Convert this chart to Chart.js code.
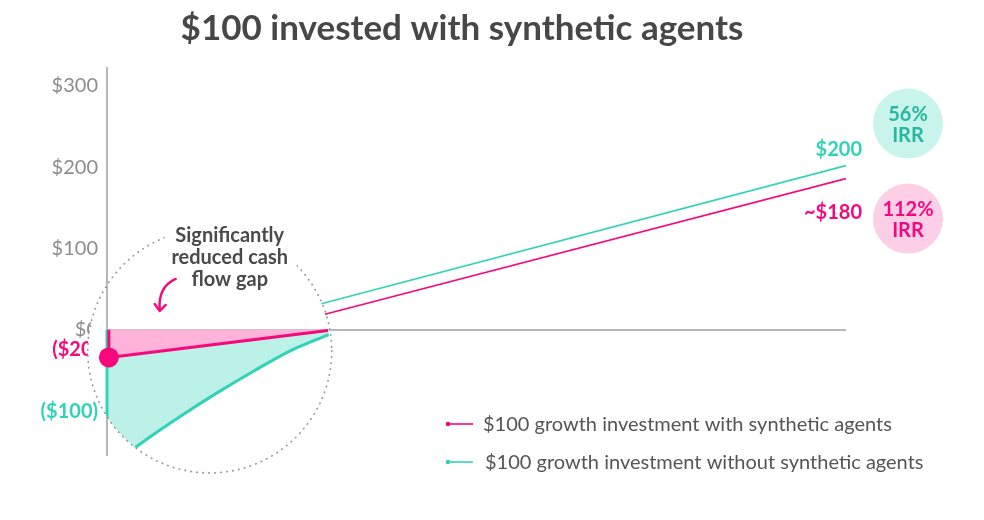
<!DOCTYPE html>
<html>
<head>
<meta charset="utf-8">
<script src="https://cdn.jsdelivr.net/npm/chart.js@4.4.0/dist/chart.umd.min.js"></script>
<style>
  html, body { margin: 0; padding: 0; background: #fff; }
  #wrap { width: 984px; height: 520px; position: relative; }
</style>
</head>
<body>
<div id="wrap"><canvas id="chart_Invest"></canvas></div>
<script>
// values (x is just the time axis, 0..10, no labels)
var titleText = '$100 invested with synthetic agents';
var seriesLabels = ['$100 growth investment with synthetic agents', '$100 growth investment without synthetic agents'];
var yTicks = [0, 100, 200, 300];

var withX = [2.95, 10];
var withY = [19, 186];
var withoutX = [2.9, 10];
var withoutY = [32, 202];

// magnified start of both investments (inside the dotted circle)
var withStartX = [0.025, 0.025, 2.99];
var withStartY = [0, -34, -1];
var withoutDropX = [0, 0];
var withoutDropY = [0, -200];
var withoutCurveX = [0, 0.5, 1.0, 1.5, 2.0, 2.5, 3.0];
var withoutCurveY = [-171, -137, -106, -77, -50, -25, -6];

var startLabels = ['($20)', '($100)'];
var startValues = [-24, -100];
var endLabels = ['~$180', '$200'];
var irrLabels = [['112%', 'IRR'], ['56%', 'IRR']];
var noteLines = ['Significantly', 'reduced cash', 'flow gap'];

var pink = '#f7087c';
var teal = '#30d3b6';
var axisGray = '#b8b8b8';

function toPoints(xs, ys) {
    var pts = [];
    for (var i = 0; i < xs.length; i++) {
        pts.push({ x: xs[i], y: ys[i] });
    }
    return pts;
}

var lensX = 1.39, lensY = -26, lensR = 122;
var clipped = false;

var lensPlugin = {
    id: 'lens',
    beforeDatasetsDraw: function (chart) {
        var ctx = chart.ctx, xs = chart.scales.x, ys = chart.scales.y, a = chart.chartArea;
        // start labels sit under the lens
        ctx.save();
        ctx.font = 'bold 20px Lato';
        ctx.textAlign = 'right';
        ctx.textBaseline = 'middle';
        ctx.fillStyle = pink;
        ctx.fillText(startLabels[0], a.left - 9, ys.getPixelForValue(startValues[0]));
        ctx.fillStyle = teal;
        ctx.fillText(startLabels[1], a.left - 9, ys.getPixelForValue(startValues[1]));
        ctx.restore();

        var cx = xs.getPixelForValue(lensX), cy = ys.getPixelForValue(lensY);
        ctx.save();
        ctx.beginPath();
        ctx.arc(cx, cy, lensR, 0, Math.PI * 2);
        ctx.fillStyle = '#fff';
        ctx.fill();
        ctx.clip();
        ctx.strokeStyle = axisGray;
        ctx.lineWidth = 2;
        ctx.beginPath();
        ctx.moveTo(a.left, a.top);
        ctx.lineTo(a.left, a.bottom);
        ctx.moveTo(a.left, Math.round(ys.getPixelForValue(0)));
        ctx.lineTo(a.right, Math.round(ys.getPixelForValue(0)));
        ctx.stroke();
        clipped = true;
    },
    beforeDatasetDraw: function (chart, args) {
        if (args.index < 2 && clipped) {
            chart.ctx.restore();
            clipped = false;
        }
    },
    afterDatasetsDraw: function (chart) {
        var ctx = chart.ctx, xs = chart.scales.x, ys = chart.scales.y, a = chart.chartArea;
        if (clipped) {
            ctx.restore();
            clipped = false;
        }
        var cx = xs.getPixelForValue(lensX), cy = ys.getPixelForValue(lensY);

        // dotted lens outline
        ctx.save();
        ctx.beginPath();
        ctx.arc(cx, cy, lensR, 0, Math.PI * 2);
        ctx.setLineDash([0.4, 5.6]);
        ctx.lineCap = 'round';
        ctx.lineWidth = 1.8;
        ctx.strokeStyle = '#9c9c9c';
        ctx.stroke();
        ctx.restore();

        // note above the lens
        ctx.save();
        ctx.fillStyle = '#fff';
        ctx.fillRect(cx - 45, cy - 133, 132, 74);
        ctx.font = 'bold 20px Lato';
        ctx.fillStyle = '#4a4a4a';
        ctx.textAlign = 'center';
        ctx.textBaseline = 'alphabetic';
        for (var i = 0; i < noteLines.length; i++) {
            ctx.fillText(noteLines[i], cx + 20, cy - 109 + i * 22);
        }
        // curved arrow
        ctx.strokeStyle = pink;
        ctx.lineWidth = 2.4;
        ctx.lineCap = 'round';
        ctx.lineJoin = 'round';
        ctx.beginPath();
        ctx.moveTo(cx - 34, cy - 72);
        ctx.quadraticCurveTo(cx - 52, cy - 64, cx - 50, cy - 41);
        ctx.stroke();
        ctx.beginPath();
        ctx.moveTo(cx - 55, cy - 47);
        ctx.lineTo(cx - 50, cy - 40);
        ctx.lineTo(cx - 44, cy - 46);
        ctx.stroke();
        ctx.restore();

        // end values and IRR bubbles
        var ends = [
            { lab: endLabels[0], irr: irrLabels[0], col: pink, fill: '#fdcfe6', txt: '#f2097f', y: ys.getPixelForValue(withY[1]), dy: 34, by: 40 },
            { lab: endLabels[1], irr: irrLabels[1], col: teal, fill: '#c9f4ec', txt: '#27b89f', y: ys.getPixelForValue(withoutY[1]), dy: -16, by: -42 }
        ];
        ctx.save();
        ends.forEach(function (e) {
            ctx.font = 'bold 20px Lato';
            ctx.textAlign = 'right';
            ctx.textBaseline = 'middle';
            ctx.fillStyle = e.col;
            ctx.fillText(e.lab, a.right + 16, e.y + e.dy);
            ctx.beginPath();
            ctx.arc(a.right + 62, e.y + e.by, 35, 0, Math.PI * 2);
            ctx.fillStyle = e.fill;
            ctx.fill();
            ctx.fillStyle = e.txt;
            ctx.textAlign = 'center';
            ctx.font = 'bold 20px Lato';
            ctx.fillText(e.irr[0], a.right + 62, e.y + e.by - 9);
            ctx.fillText(e.irr[1], a.right + 62, e.y + e.by + 12);
        });
        ctx.restore();

        // legend
        ctx.save();
        var ds = chart.data.datasets;
        for (var j = 0; j < 2; j++) {
            var ly = 424 + j * 38;
            ctx.strokeStyle = ds[j].borderColor;
            ctx.fillStyle = ds[j].borderColor;
            ctx.lineWidth = 1.6;
            ctx.beginPath();
            ctx.moveTo(447, ly);
            ctx.lineTo(473, ly);
            ctx.stroke();
            ctx.beginPath();
            ctx.arc(448, ly, 2.3, 0, Math.PI * 2);
            ctx.fill();
            ctx.font = '20px Lato';
            ctx.fillStyle = '#555';
            ctx.textAlign = 'left';
            ctx.textBaseline = 'middle';
            ctx.fillText(ds[j].label, 483 + j * 2, ly + 1);
        }
        ctx.restore();

        // title
        ctx.save();
        ctx.font = 'bold 35px Lato';
        ctx.fillStyle = '#474747';
        ctx.textAlign = 'center';
        ctx.textBaseline = 'alphabetic';
        ctx.fillText(titleText, 462, 40);
        ctx.restore();
    }
};

Chart.defaults.font.family = 'Lato';

new Chart(document.getElementById('chart_Invest'), {
    type: 'scatter',
    data: {
        datasets: [{
            label: seriesLabels[0],
            data: toPoints(withX, withY),
            showLine: true,
            borderColor: pink,
            borderWidth: 1.6,
            pointRadius: 0
        }, {
            label: seriesLabels[1],
            data: toPoints(withoutX, withoutY),
            showLine: true,
            borderColor: teal,
            borderWidth: 1.6,
            pointRadius: 0
        }, {
            label: 'with, start',
            data: toPoints(withStartX, withStartY),
            showLine: true,
            borderColor: pink,
            borderWidth: 3,
            backgroundColor: '#ffb3d9',
            fill: 'origin',
            pointRadius: [0, 10, 0],
            pointBackgroundColor: pink,
            pointBorderWidth: 0,
            clip: false
        }, {
            label: 'without, drop',
            data: toPoints(withoutDropX, withoutDropY),
            showLine: true,
            borderColor: teal,
            borderWidth: 3,
            pointRadius: 0,
            clip: false
        }, {
            label: 'without, start',
            data: toPoints(withoutCurveX, withoutCurveY),
            showLine: true,
            borderColor: teal,
            borderWidth: 3,
            backgroundColor: '#bcf1e7',
            fill: 'origin',
            cubicInterpolationMode: 'monotone',
            pointRadius: 0,
            clip: false
        }]
    },
    options: {
        responsive: true,
        maintainAspectRatio: false,
        animation: false,
        events: [],
        layout: { padding: { top: 68, right: 138, bottom: 65, left: 0 } },
        plugins: {
            legend: { display: false },
            title: { display: false },
            tooltip: { enabled: false }
        },
        scales: {
            x: { type: 'linear', min: 0, max: 10, display: false },
            y: {
                min: -154,
                max: 322,
                afterFit: function (s) { s.width = 107; },
                afterBuildTicks: function (s) {
                    s.ticks = yTicks.map(function (v) { return { value: v }; });
                },
                border: { display: true, color: axisGray, width: 2 },
                grid: {
                    drawTicks: false,
                    lineWidth: 2,
                    color: function (c) { return c.tick && c.tick.value === 0 ? axisGray : 'rgba(0,0,0,0)'; }
                },
                ticks: {
                    padding: 9,
                    color: '#8c8c8c',
                    font: { size: 20 },
                    callback: function (v) { return '$' + v; }
                }
            }
        }
    },
    plugins: [lensPlugin]
});
</script>
</body>
</html>
